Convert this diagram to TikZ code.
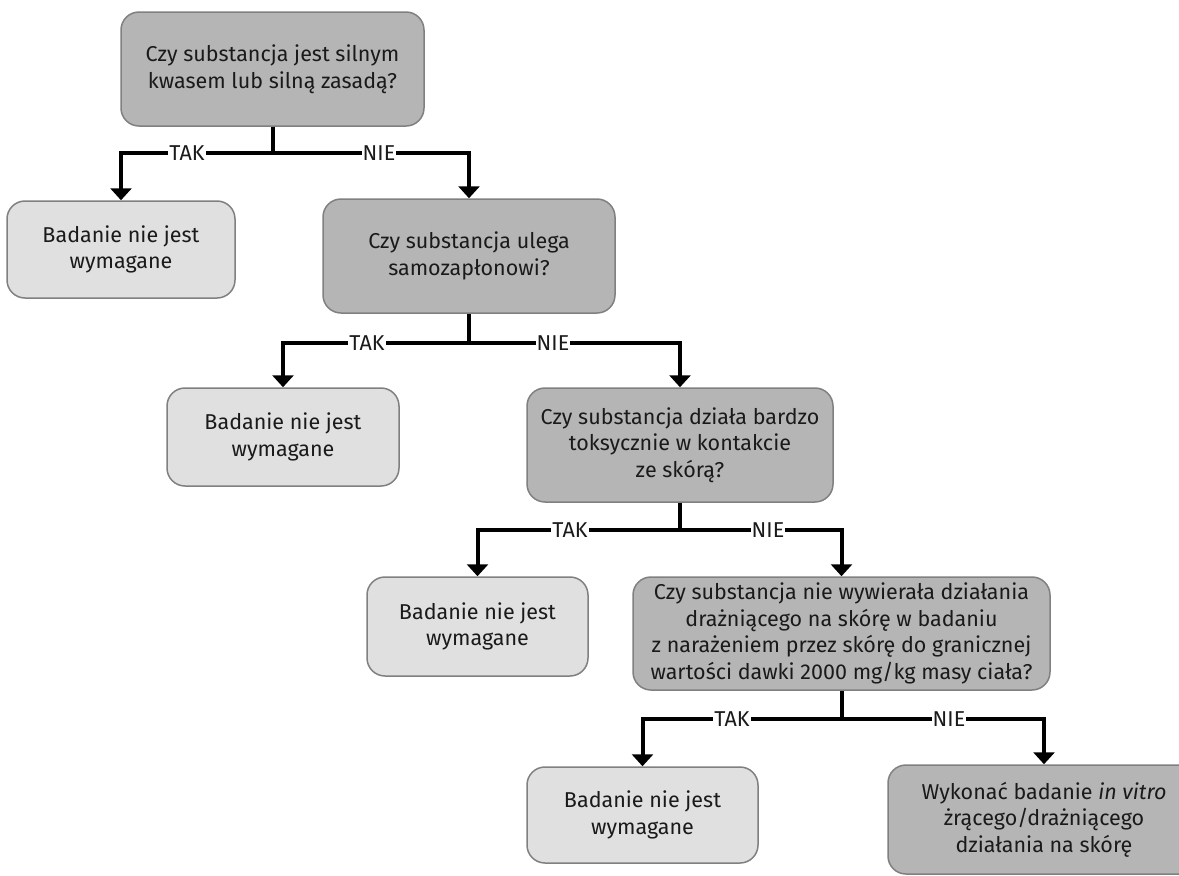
\documentclass[tikz,border=0pt]{standalone}
\usepackage{fontspec}
\setmainfont{Fira Sans}
\usetikzlibrary{arrows.meta}
\definecolor{qfill}{RGB}{181,181,181}
\definecolor{afill}{RGB}{224,224,224}
\definecolor{edge}{RGB}{128,128,128}
\definecolor{ink}{RGB}{26,26,26}
\begin{document}
\begin{tikzpicture}[x=1pt,y=-1pt,
  font=\fontsize{21.5}{26.5}\selectfont,
  box/.style={draw=edge, line width=1.5pt, rounded corners=18pt, align=center,
    text=ink, inner sep=0pt},
  question/.style={box, fill=qfill},
  answer/.style={box, fill=afill},
  link/.style={line width=4pt, line join=miter},
  flow/.style={link, -{Triangle[width=21pt,length=12pt]}},
  branch/.style={fill=white, inner sep=1pt, text=ink}]
\useasboundingbox (0,0) rectangle (1179,876);
\begin{scope}
\clip (0,0) rectangle (1179,876);

% decision boxes
\node[question, minimum width=303pt, minimum height=114pt] (q1) at (272.5,69)
  {Czy substancja jest silnym\\kwasem lub silną zasadą?};
\node[question, minimum width=292pt, minimum height=114pt] (q2) at (469,256)
  {Czy substancja ulega\\samozapłonowi?};
\node[question, minimum width=306pt, minimum height=114pt] (q3) at (680,445)
  {Czy substancja działa bardzo\\toksycznie w kontakcie\\ze skórą?};
\node[question, minimum width=417pt, minimum height=113pt] (q4) at (841.5,633.5)
  {Czy substancja nie wywierała działania\\drażniącego na skórę w badaniu\\z narażeniem przez skórę do granicznej\\wartości dawki 2000 mg/kg masy ciała?};

% outcome boxes
\node[answer, minimum width=228pt, minimum height=97pt] (a1) at (121,249.5)
  {Badanie nie jest\\wymagane};
\node[answer, minimum width=232pt, minimum height=98pt] (a2) at (283,437)
  {Badanie nie jest\\wymagane};
\node[answer, minimum width=221pt, minimum height=99pt] (a3) at (477.5,626.5)
  {Badanie nie jest\\wymagane};
\node[answer, minimum width=231pt, minimum height=96pt] (a4) at (642.5,815)
  {Badanie nie jest\\wymagane};
\node[question, minimum width=312pt, minimum height=109pt] (fin) at (1044,819.5)
  {Wykonać badanie \textit{in vitro}\\żrącego/drażniącego\\działania na skórę};

% branch points
\coordinate (j1) at (q1.south |- 0,153);
\coordinate (j2) at (q2.south |- 0,343);
\coordinate (j3) at (q3.south |- 0,530);
\coordinate (j4) at (q4.south |- 0,719);

% connectors
\draw[link] (q1.south) -- (j1);
\draw[flow] (j1) -| (a1.north);
\draw[flow] (j1) -| (q2.north);
\draw[link] (q2.south) -- (j2);
\draw[flow] (j2) -| (a2.north);
\draw[flow] (j2) -| (q3.north);
\draw[link] (q3.south) -- (j3);
\draw[flow] (j3) -| (a3.north);
\draw[flow] (j3) -| (q4.north);
\draw[link] (q4.south) -- (j4);
\draw[flow] (j4) -| (a4.north);
\draw[flow] (j4) -| (fin.north);

% branch labels
\node[branch] (t1) at (187,153) {TAK};
\node[branch] (n1) at (379,153) {NIE};
\node[branch] (t2) at (367,343) {TAK};
\node[branch] (n2) at (553,343) {NIE};
\node[branch] (t3) at (570,530) {TAK};
\node[branch] (n3) at (768,530) {NIE};
\node[branch] (t4) at (732,719) {TAK};
\node[branch] (n4) at (949,719) {NIE};
\end{scope}
\end{tikzpicture}
\end{document}
